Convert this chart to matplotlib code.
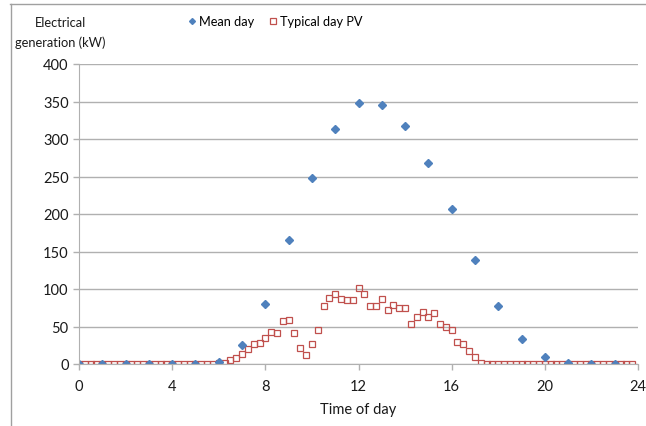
import matplotlib.pyplot as plt
import numpy as np

plt.rcParams['font.family'] = ['Lato', 'DejaVu Sans']

# hourly mean generation (kW)
mean_hours = np.arange(24)
mean_day = [0, 0, 0, 0, 0, 0, 3, 25, 80, 165, 248, 313,
            348, 345, 318, 268, 207, 139, 77, 33, 10, 2, 0, 0]

# typical day PV at 15 min resolution (kW)
pv_hours = np.arange(96) * 0.25
pv_day = [0] * 24 + [
    1, 1, 5, 8, 13, 20, 27, 28,
    35, 43, 41, 57, 59, 41, 21, 12,
    27, 46, 78, 88, 93, 87, 85, 85,
    101, 93, 78, 78, 87, 72, 79, 75,
    75, 53, 63, 69, 63, 68, 54, 50,
    45, 30, 27, 18, 10, 2,
] + [0] * 26

grid_col = '#b0b0b0'
text_col = '#1a1a1a'

fig = plt.figure(figsize=(6.46, 4.27), dpi=100)
ax = fig.add_axes([79/646, 1 - 365/427, (638-79)/646, (365-65)/427])

ax.plot(pv_hours, pv_day, 's', markersize=5.0, markerfacecolor='none',
        markeredgecolor='#C0504D', markeredgewidth=0.9, label='Typical day PV')
ax.plot(mean_hours, mean_day, 'D', markersize=4.0, color='#4F81BD',
        label='Mean day')

ax.set_xlim(0, 24)
ax.set_ylim(0, 400)
ax.set_xticks(np.arange(0, 25, 4))
ax.set_yticks(np.arange(0, 401, 50))
ax.yaxis.grid(True, color=grid_col, linewidth=1)
ax.set_axisbelow(True)
for s in ['top', 'right']:
    ax.spines[s].set_visible(False)
for s in ['left', 'bottom']:
    ax.spines[s].set_color(grid_col)
ax.tick_params(axis='both', colors=grid_col, labelcolor=text_col,
               labelsize=10.5, length=4, width=1)
ax.tick_params(axis='x', pad=7)

ax.set_xlabel('Time of day', fontsize=10.5, color=text_col, labelpad=6)
fig.text(60/646, 1 - 33/427, 'Electrical\ngeneration (kW)', ha='center',
         va='center', fontsize=9.3, color=text_col, linespacing=1.75)

handles, labels = ax.get_legend_handles_labels()
fig.legend(handles[::-1], labels[::-1], loc='center', ncol=2,
           bbox_to_anchor=(274/646, 1 - 22/427), frameon=False,
           fontsize=9.2, handletextpad=0.1, columnspacing=0.9,
           handlelength=1.0, markerscale=0.75)

# chart border (top and left visible)
fig.add_artist(plt.Line2D([10/646, 1], [1 - 5/427] * 2, color='#a0a0a0', lw=1))
fig.add_artist(plt.Line2D([11/646] * 2, [0, 1 - 5/427], color='#a0a0a0', lw=1))

fig.savefig('out.png', dpi=100)
